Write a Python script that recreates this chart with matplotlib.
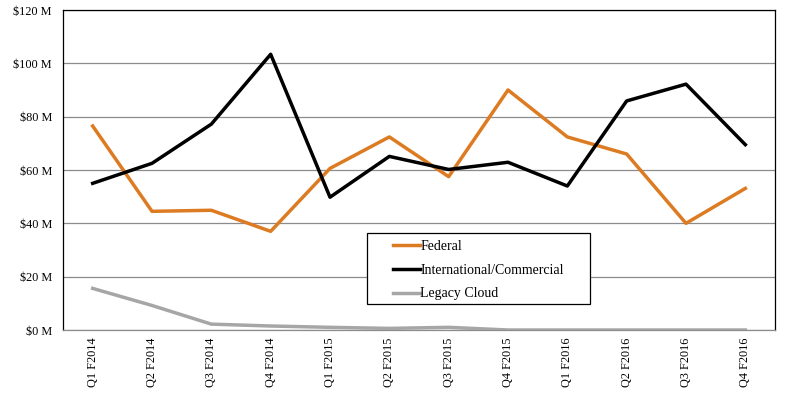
import matplotlib
matplotlib.use("Agg")
import matplotlib.pyplot as plt
from matplotlib.patches import Rectangle
from matplotlib.ticker import FuncFormatter

# Quarterly revenue by segment ($M)
quarters = ["Q1 F2014", "Q2 F2014", "Q3 F2014", "Q4 F2014",
            "Q1 F2015", "Q2 F2015", "Q3 F2015", "Q4 F2015",
            "Q1 F2016", "Q2 F2016", "Q3 F2016", "Q4 F2016"]
federal = [76.5, 44.5, 44.9, 37.0, 60.6, 72.4, 57.5, 90.0, 72.4, 66.0, 40.0, 53.1]
intl_commercial = [55.0, 62.5, 77.2, 103.4, 49.8, 65.1, 60.2, 62.9, 54.0, 85.9, 92.2, 69.5]
legacy_cloud = [15.6, 9.2, 2.2, 1.5, 1.0, 0.6, 1.0, 0.0, 0.0, 0.0, 0.0, 0.0]

plt.rcParams['font.family'] = ['Liberation Serif', 'DejaVu Serif']

fig = plt.figure(figsize=(7.95, 3.96), dpi=100)
ax = fig.add_axes([63 / 795, 66 / 396, 712 / 795, 320 / 396])

x = range(len(quarters))
ax.plot(x, federal, color="#DD7B22", lw=2.5, label="Federal", zorder=3)
ax.plot(x, intl_commercial, color="black", lw=2.5, label="International/Commercial", zorder=3)
ax.plot(x, legacy_cloud, color="#A6A6A6", lw=2.5, label="Legacy Cloud", zorder=3)

ax.set_xlim(-0.5, len(quarters) - 0.5)
ax.set_ylim(0, 120)
ax.set_yticks(range(0, 121, 20))
ax.yaxis.set_major_formatter(FuncFormatter(lambda v, p: f"${v:.0f} M"))
ax.set_xticks(list(x))
ax.set_xticklabels(quarters, rotation=90)
ax.tick_params(length=0, labelsize=8.8)
ax.tick_params(axis='y', pad=8)
ax.tick_params(axis='x', pad=5.5)
ax.grid(axis='y', color="#8C8C8C", lw=0.9)
ax.set_axisbelow(True)
for s in ax.spines.values():
    s.set_color("black")
    s.set_linewidth(0.9)
ax.spines['bottom'].set_color("#8C8C8C")

# legend frame drawn separately so the handles can sit inset from the left edge
ax.add_patch(Rectangle((0.4265, 0.081), 0.3135, 0.222, transform=ax.transAxes,
                       facecolor="white", edgecolor="black", lw=0.9, zorder=2.5))
ax.legend(loc="upper left", bbox_to_anchor=(0.4635, 0.281), frameon=False,
          handlelength=1.95, handletextpad=0.0, fontsize=10, borderaxespad=0,
          borderpad=0, labelspacing=0.77)

fig.savefig("out.png", dpi=100)
